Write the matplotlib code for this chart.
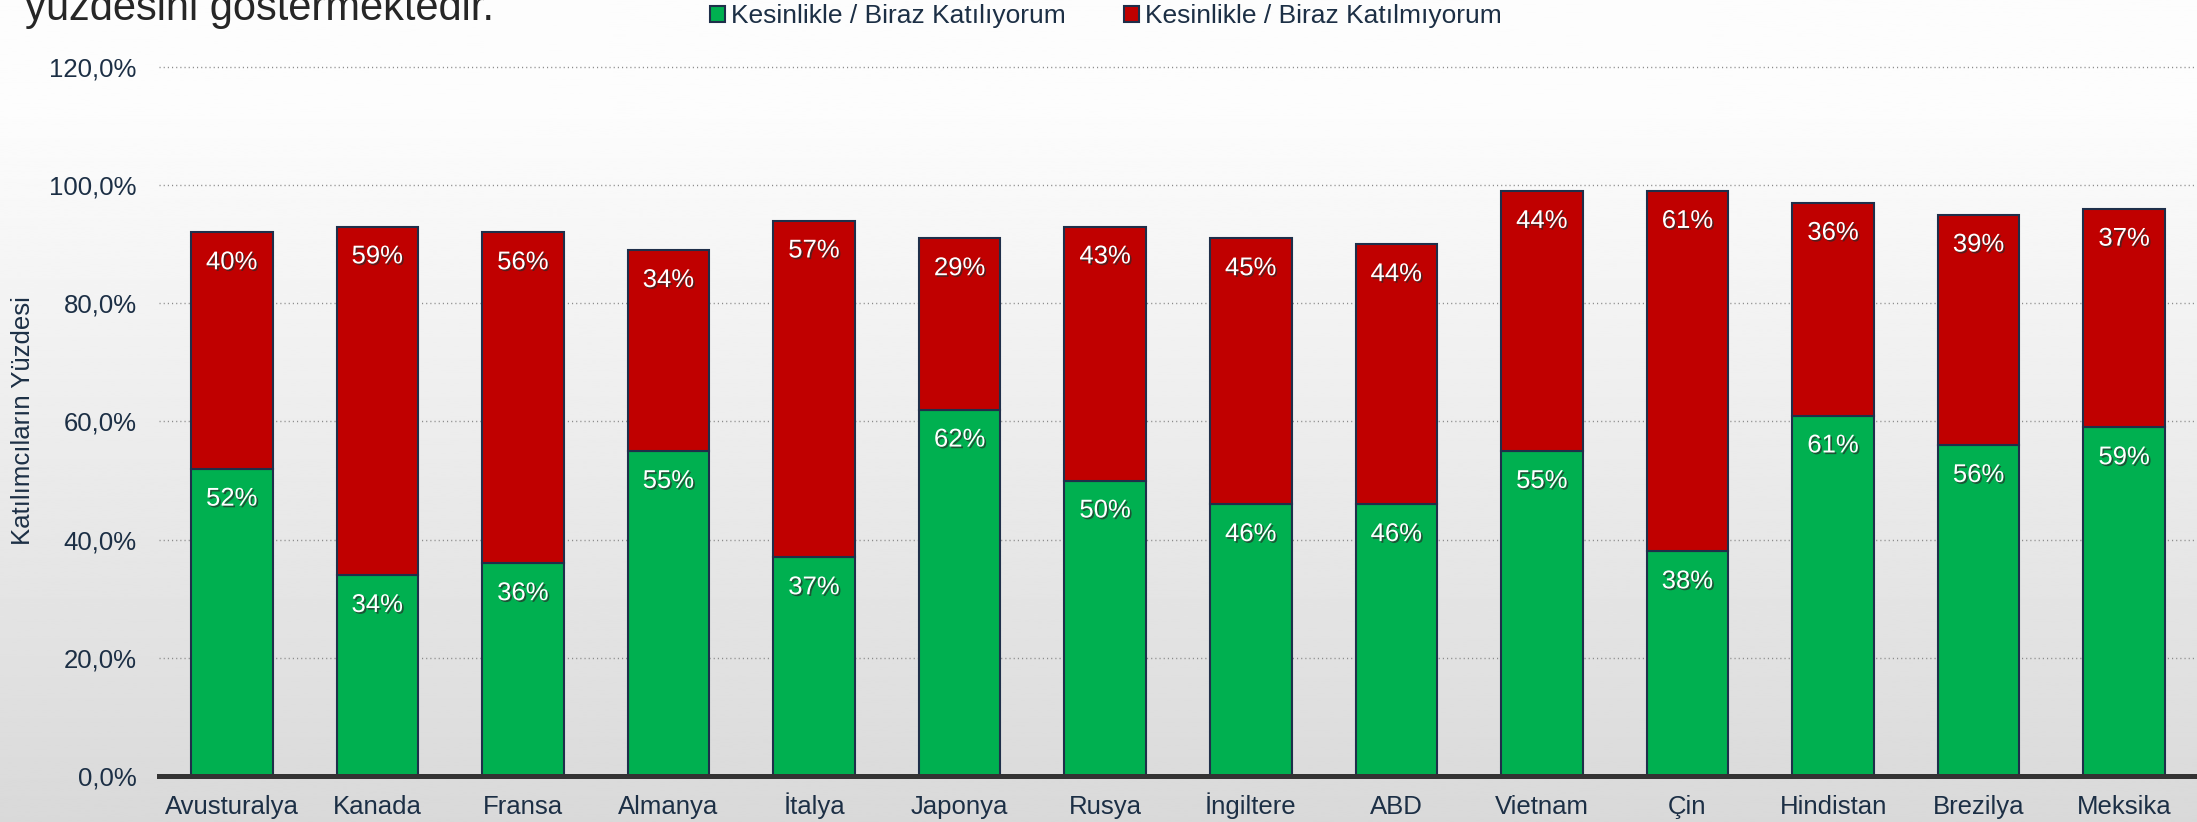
import matplotlib
matplotlib.use("Agg")
import matplotlib.pyplot as plt
import matplotlib.patheffects as pe
from matplotlib.patches import Patch
import numpy as np

plt.rcParams['font.family'] = ['Liberation Sans', 'DejaVu Sans']

categories = ["Avusturalya", "Kanada", "Fransa", "Almanya", "İtalya", "Japonya", "Rusya",
              "İngiltere", "ABD", "Vietnam", "Çin", "Hindistan", "Brezilya", "Meksika"]
agree = [52, 34, 36, 55, 37, 62, 50, 46, 46, 55, 38, 61, 56, 59]
disagree = [40, 59, 56, 34, 57, 29, 43, 45, 44, 44, 61, 36, 39, 37]
series_names = ["Kesinlikle / Biraz Katılıyorum", "Kesinlikle / Biraz Katılmıyorum"]
yticks = [0, 20, 40, 60, 80, 100, 120]
ylabel = "Katılımcıların Yüzdesi"
title_text = "yüzdesini göstermektedir."

GREEN = "#00b050"
RED = "#c00000"
EDGE = "#1f2f4a"
TXT = "#1c2f45"

W, H = 2197, 822
fig = plt.figure(figsize=(W / 100, H / 100), dpi=100)

# gradient background
bg = fig.add_axes([0, 0, 1, 1], zorder=-10)
ys = np.linspace(0, 1, 400)
top_v, bot_v = 253 / 255, 217 / 255
start = 100 / H
vals = np.where(ys < start, top_v, top_v - (ys - start) / (1 - start) * (top_v - bot_v))
grad = np.repeat(vals[:, None], 2, axis=1)
bg.imshow(grad, cmap="gray", vmin=0, vmax=1, aspect="auto", extent=[0, 1, 1, 0])
bg.set_xlim(0, 1)
bg.set_ylim(1, 0)
bg.axis("off")

left = 159 / W
bottom = 1 - 776 / H
top = 1 - 67 / H
ax = fig.add_axes([left, bottom, 1 - left, top - bottom])
ax.set_facecolor("none")

x = np.arange(len(categories))
bw = 0.56
ax.bar(x, agree, width=bw, color=GREEN, edgecolor=EDGE, linewidth=1.5, zorder=3)
ax.bar(x, disagree, width=bw, bottom=agree, color=RED, edgecolor=EDGE, linewidth=1.5, zorder=3)

ax.set_xlim(-0.5, len(categories) - 0.5)
ax.set_ylim(0, 120)

for yv in yticks[1:]:
    ax.axhline(yv, color="#8a8a8a", linewidth=1.0, linestyle=(0, (0.8, 2.2)), zorder=1, clip_on=False)

shadow = [pe.SimplePatchShadow(offset=(1.2, -1.2), shadow_rgbFace="#2a2a2a", alpha=0.7), pe.Normal()]
for i in range(len(categories)):
    top_g = agree[i]
    top_r = agree[i] + disagree[i]
    ax.annotate(f"{agree[i]}%", xy=(x[i], top_g), xytext=(0, -21.5), textcoords="offset points",
                ha="center", va="center", color="white", fontsize=18.5, zorder=5, path_effects=shadow)
    ax.annotate(f"{disagree[i]}%", xy=(x[i], top_r), xytext=(0, -21.5), textcoords="offset points",
                ha="center", va="center", color="white", fontsize=18.5, zorder=5, path_effects=shadow)

for s in ["top", "right", "left"]:
    ax.spines[s].set_visible(False)
ax.spines["bottom"].set_color("#333333")
ax.spines["bottom"].set_linewidth(3.6)
ax.spines["bottom"].set_zorder(6)

ax.set_yticks(yticks)
ax.set_yticklabels([f"{v},0%" for v in yticks])
ax.set_xticks(x)
ax.set_xticklabels(categories)
ax.tick_params(axis="y", length=0, pad=16, labelsize=18.5, labelcolor=TXT)
ax.tick_params(axis="x", length=0, pad=27, labelsize=18.5, labelcolor=TXT)
for lbl in ax.get_xticklabels():
    lbl.set_verticalalignment("baseline")

fig.text(23 / W, 1 - 421 / H, ylabel, rotation=90, ha="center", va="center", fontsize=18.5, color=TXT)

fig.text(25 / W, 1 - 20 / H, title_text, ha="left", va="baseline", fontsize=30, color="#262626")

handles = [Patch(facecolor=GREEN, edgecolor=EDGE, linewidth=1.5),
           Patch(facecolor=RED, edgecolor=EDGE, linewidth=1.5)]
fig.legend(handles, series_names, loc="center", bbox_to_anchor=(1106 / W, 1 - 16 / H), ncol=2,
           frameon=False, fontsize=19, handlelength=0.55, handleheight=0.55, handletextpad=0.25,
           columnspacing=2.2, labelcolor=TXT, borderpad=0, borderaxespad=0)

fig.savefig("out.png", dpi=100)
